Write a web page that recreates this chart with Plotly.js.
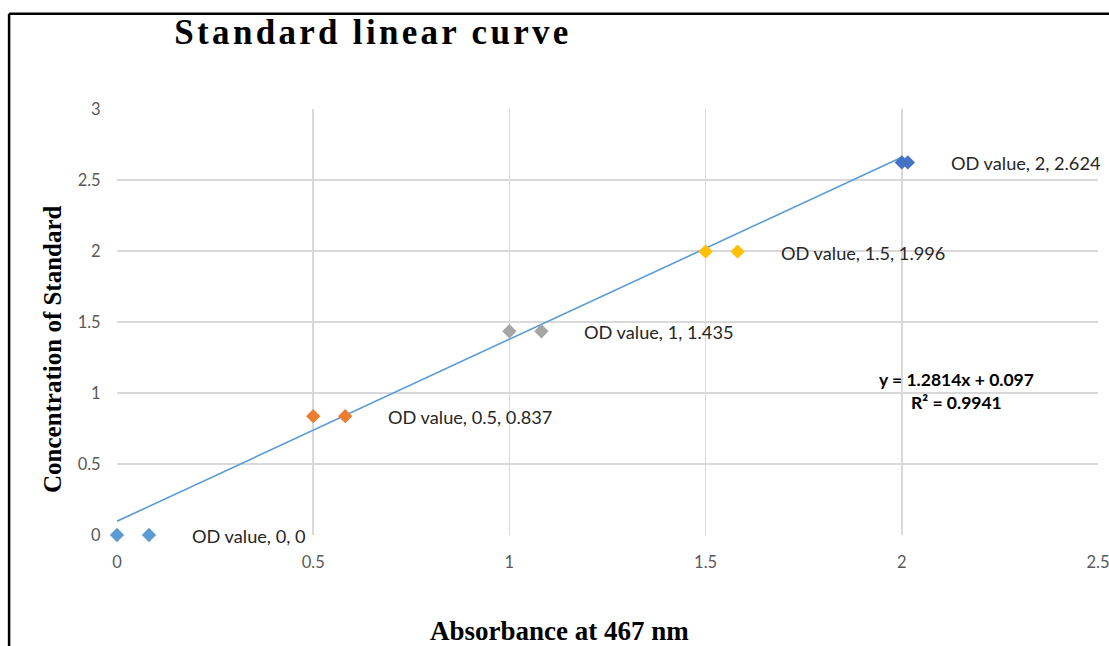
<!DOCTYPE html>
<html>
<head>
<meta charset="utf-8">
<script src="https://cdn.plot.ly/plotly-3.0.1.min.js"></script>
<style>
  html, body { margin: 0; padding: 0; background: #fff; }
  #chart { width: 1109px; height: 646px; }
</style>
</head>
<body>
<div id="chart"></div>
<script>
// ---- data ----
const absorbance = [0, 0.5, 1, 1.5, 2];
const concentration = [0, 0.837, 1.435, 1.996, 2.624];
const pointLabels = ["OD value, 0, 0", "OD value, 0.5, 0.837", "OD value, 1, 1.435", "OD value, 1.5, 1.996", "OD value, 2, 2.624"];
const pointColors = ["#5B9BD5", "#ED7D31", "#A5A5A5", "#FFC000", "#4472C4"];
const trendSlope = 1.2814;
const trendIntercept = 0.097;
const trendEquation = "y = 1.2814x + 0.097";
const trendR2 = "R² = 0.9941";
const xTicks = [0, 0.5, 1, 1.5, 2, 2.5];
const yTicks = [0, 0.5, 1, 1.5, 2, 2.5, 3];
const chartTitle = "Standard linear curve";
const xTitle = "Absorbance at 467 nm";
const yTitle = "Concentration of Standard";

// ---- geometry ----
const W = 1109, H = 646;
const M = {l: 117, r: 11, t: 109, b: 111};
const xRange = [0, 2.5];
const pxPerUnit = (W - M.l - M.r) / (xRange[1] - xRange[0]);
const keyShiftPx = 32;      // label-key diamond offset for most labels
const lastKeyShiftPx = 6;   // last label was moved in the original
const n = absorbance.length;

// trendline over the data range
const trendX = [Math.min(...absorbance), Math.max(...absorbance)];
const trendY = trendX.map(x => trendSlope * x + trendIntercept);

const markerStyle = (cols) => ({symbol: 'diamond', size: 11, color: cols, line: {width: 0}});

const traces = [
  {x: trendX, y: trendY, mode: 'lines', type: 'scatter',
   line: {color: '#5B9BD5', width: 1.6}, hoverinfo: 'skip', cliponaxis: false},
  {x: absorbance, y: concentration, mode: 'markers', type: 'scatter',
   marker: markerStyle(pointColors), cliponaxis: false},
  // label-key diamonds drawn on pixel-shifted overlay axes
  {x: absorbance.slice(0, n - 1), y: concentration.slice(0, n - 1), xaxis: 'x2',
   mode: 'markers', type: 'scatter', marker: markerStyle(pointColors.slice(0, n - 1)), cliponaxis: false},
  {x: absorbance.slice(n - 1), y: concentration.slice(n - 1), xaxis: 'x3',
   mode: 'markers', type: 'scatter', marker: markerStyle(pointColors.slice(n - 1)), cliponaxis: false}
];

const textShift = absorbance.map((_, i) => i === n - 1 ? 47 : 73);
const labelFont = {family: 'Lato, "Open Sans", sans-serif', size: 18.2, color: '#262626'};
const serif = '"Liberation Serif", "Times New Roman", serif';

const annotations = absorbance.map((x, i) => ({
  x: x, y: concentration[i], xref: 'x', yref: 'y', xanchor: 'left', yanchor: 'middle',
  xshift: textShift[i], yshift: -1, showarrow: false, text: pointLabels[i], font: labelFont
}));
annotations.push({
  x: 2.14, y: 1.015, xref: 'x', yref: 'y', showarrow: false, align: 'center',
  text: '<b>' + trendEquation + '</b><br><b>' + trendR2 + '</b>',
  font: {family: 'Lato, "Open Sans", sans-serif', size: 17.5, color: '#000'}
});
annotations.push({
  x: 0.4506, y: -0.225, xref: 'paper', yref: 'paper', xanchor: 'center', yanchor: 'middle',
  showarrow: false, text: '<b>' + xTitle + '</b>',
  font: {family: serif, size: 27, color: '#000'}
});
annotations.push({
  x: -0.0655, y: 0.436, xref: 'paper', yref: 'paper', xanchor: 'center', yanchor: 'middle',
  textangle: -90, showarrow: false, text: '<b>' + yTitle + '</b>',
  font: {family: serif, size: 25, color: '#000'}
});

const shapes = [
  {type: 'line', xref: 'paper', yref: 'paper', x0: -0.110, x1: 1.02, y0: 1.2235, y1: 1.2235, line: {color: '#000', width: 2.5}},
  {type: 'line', xref: 'paper', yref: 'paper', x0: -0.110, x1: -0.110, y0: 1.2235, y1: -0.3, line: {color: '#000', width: 2.5}}
];

const tickFont = {family: 'Lato, "Open Sans", sans-serif', size: 16.5, color: '#595959'};
const hiddenOverlay = (shiftPx) => ({
  overlaying: 'x', visible: false, fixedrange: true,
  range: [xRange[0] - shiftPx / pxPerUnit, xRange[1] - shiftPx / pxPerUnit]
});

const layout = {
  width: W, height: H, margin: M,
  paper_bgcolor: '#fff', plot_bgcolor: '#fff', showlegend: false,
  title: {
    text: '<b>' + chartTitle + '</b>',
    x: 373 / W, xref: 'container', xanchor: 'center',
    y: 1 - 32 / H, yref: 'container', yanchor: 'middle',
    font: {family: serif, size: 35, color: '#000'}
  },
  xaxis: {
    range: xRange, tickvals: xTicks, ticktext: xTicks.map(String),
    showgrid: true, gridcolor: '#D9D9D9', gridwidth: 1.5,
    zeroline: false, showline: false,
    ticks: 'outside', ticklen: 12, tickcolor: 'rgba(0,0,0,0)',
    tickfont: tickFont, fixedrange: true, ticklabeloverflow: 'allow'
  },
  xaxis2: hiddenOverlay(keyShiftPx),
  xaxis3: hiddenOverlay(lastKeyShiftPx),
  yaxis: {
    range: [0, 3], tickvals: yTicks, ticktext: yTicks.map(String),
    showgrid: true, gridcolor: '#D9D9D9', gridwidth: 1.5,
    zeroline: false, showline: false,
    ticks: 'outside', ticklen: 12, tickcolor: 'rgba(0,0,0,0)',
    tickfont: tickFont, fixedrange: true
  },
  shapes: shapes,
  annotations: annotations
};

Plotly.newPlot('chart', traces, layout, {displayModeBar: false, staticPlot: true}).then(gd => {
  const t = gd.querySelector('.gtitle');
  if (t) t.setAttribute('letter-spacing', '3.3px');
});
</script>
</body>
</html>
